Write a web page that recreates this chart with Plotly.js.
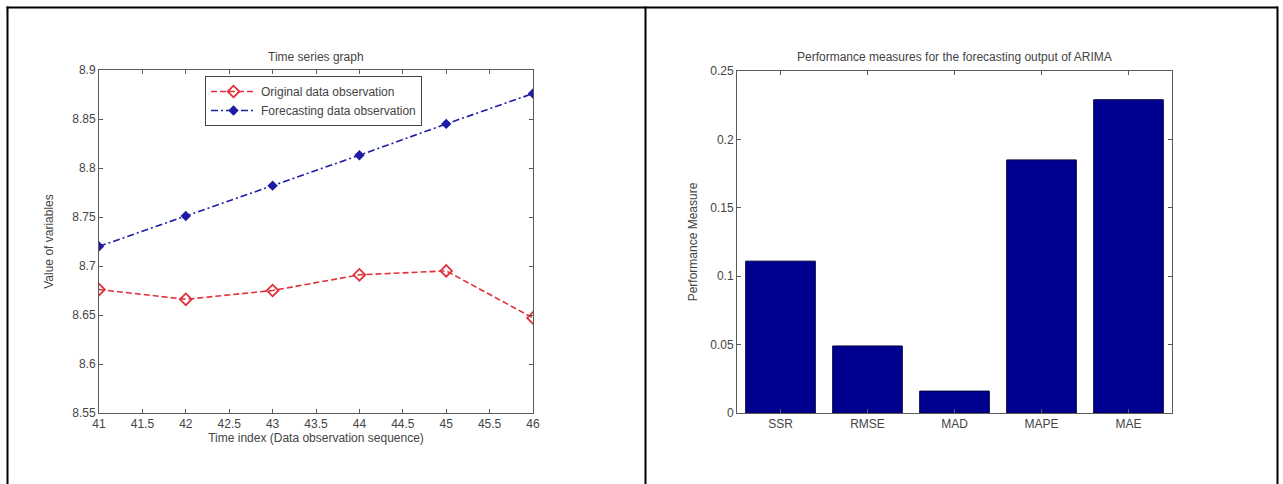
<!DOCTYPE html>
<html>
<head>
<meta charset="utf-8">
<script src="https://cdn.plot.ly/plotly-3.0.1.min.js"></script>
<style>html,body{margin:0;padding:0;background:#fff;}#chart{width:1283px;height:484px;}</style>
</head>
<body>
<div id="chart"></div>
<script>
// ---- data ----
var timeIndex = [41, 42, 43, 44, 45, 46];
var originalObs = [8.676, 8.666, 8.675, 8.691, 8.695, 8.647];
var forecastObs = [8.720, 8.751, 8.782, 8.813, 8.845, 8.876];
var leftYTicks = [8.55, 8.6, 8.65, 8.7, 8.75, 8.8, 8.85, 8.9];
var leftYTickText = ["8.55", "8.6", "8.65", "8.7", "8.75", "8.8", "8.85", "8.9"];
var leftXTicks = [41, 41.5, 42, 42.5, 43, 43.5, 44, 44.5, 45, 45.5, 46];
var leftXTickText = ["41", "41.5", "42", "42.5", "43", "43.5", "44", "44.5", "45", "45.5", "46"];
var measureNames = ["SSR", "RMSE", "MAD", "MAPE", "MAE"];
var measureValues = [0.111, 0.049, 0.016, 0.185, 0.229];
var rightYTicks = [0, 0.05, 0.1, 0.15, 0.2, 0.25];
var rightYTickText = ["0", "0.05", "0.1", "0.15", "0.2", "0.25"];

var W = 1283, H = 484;
function px(x) { return x / W; }
function py(y) { return 1 - y / H; }

var FONT = "Liberation Sans, Arial, sans-serif";
var TXT = "#444444";
var AX = "#5a5a5a";

var traces = [
  {
    x: timeIndex, y: originalObs, type: "scatter", mode: "lines+markers",
    name: "Original data observation",
    line: {color: "#e0303a", width: 1.6, dash: "6px,3px"},
    marker: {symbol: "diamond-open", size: 9, color: "#e0303a", line: {width: 1.8, color: "#e0303a"}},
    xaxis: "x", yaxis: "y"
  },
  {
    x: timeIndex, y: forecastObs, type: "scatter", mode: "lines+markers",
    name: "Forecasting data observation",
    line: {color: "#1c1ca6", width: 1.6, dash: "7px,3px,2px,3px"},
    marker: {symbol: "diamond", size: 8, color: "#1c1ca6"},
    xaxis: "x", yaxis: "y"
  },
  {
    x: measureNames, y: measureValues, type: "bar",
    marker: {color: "#000090", line: {color: "#000040", width: 1}},
    showlegend: false, xaxis: "x2", yaxis: "y2"
  }
];

var axisCommon = {
  showline: true, linecolor: AX, linewidth: 1, mirror: "ticks",
  ticks: "inside", ticklen: 4, tickcolor: AX, tickwidth: 1,
  showgrid: false, zeroline: false,
  tickfont: {family: FONT, size: 12, color: TXT}
};

function merge(a, b) { var o = {}; for (var k in a) o[k] = a[k]; for (var k2 in b) o[k2] = b[k2]; return o; }

var shapes = [];
function vline(x, y0, y1) { shapes.push({type: "line", xref: "paper", yref: "paper", x0: px(x), x1: px(x), y0: py(y0), y1: py(y1), line: {color: "#000", width: 2}}); }
function hline(y, x0, x1) { shapes.push({type: "line", xref: "paper", yref: "paper", x0: px(x0), x1: px(x1), y0: py(y), y1: py(y), line: {color: "#000", width: 2}}); }
hline(7.5, 6.5, 1278);
vline(7.5, 6.5, 484);
vline(645.5, 6.5, 484);
vline(1277.5, 6.5, 484);

var layout = {
  width: W, height: H,
  margin: {l: 0, r: 0, t: 0, b: 0},
  paper_bgcolor: "#ffffff", plot_bgcolor: "#ffffff",
  font: {family: FONT, size: 12, color: TXT},
  bargap: 0.2,
  xaxis: merge(axisCommon, {
    domain: [px(99), px(533)], range: [41, 46], anchor: "y",
    tickvals: leftXTicks, ticktext: leftXTickText,
    title: {text: "Time index (Data observation sequence)", font: {family: FONT, size: 12, color: TXT}, standoff: 2}
  }),
  yaxis: merge(axisCommon, {
    domain: [py(413), py(70)], range: [8.55, 8.9], anchor: "x",
    tickvals: leftYTicks, ticktext: leftYTickText,
    title: {text: "Value of variables", font: {family: FONT, size: 12, color: TXT}, standoff: 16}
  }),
  xaxis2: merge(axisCommon, {
    domain: [px(737), px(1172)], anchor: "y2", type: "category",
    range: [-0.5, 4.5],
    tickvals: measureNames, ticktext: measureNames,
    title: {text: ""}
  }),
  yaxis2: merge(axisCommon, {
    domain: [py(413), py(71)], range: [0, 0.25], anchor: "x2",
    tickvals: rightYTicks, ticktext: rightYTickText,
    title: {text: "Performance Measure", font: {family: FONT, size: 12, color: TXT}, standoff: 10}
  }),
  legend: {
    x: px(205), y: py(76), xanchor: "left", yanchor: "top",
    bgcolor: "#ffffff", bordercolor: "#444", borderwidth: 1,
    itemwidth: 45,
    font: {family: FONT, size: 12, color: TXT}, tracegroupgap: 0
  },
  annotations: [
    {text: "Time series graph", xref: "paper", yref: "paper", x: px(316), y: py(57), xanchor: "center", yanchor: "middle", showarrow: false, font: {family: FONT, size: 12, color: TXT}},
    {text: "Performance measures for the forecasting output of ARIMA", xref: "paper", yref: "paper", x: px(954), y: py(57), xanchor: "center", yanchor: "middle", showarrow: false, font: {family: FONT, size: 12, color: TXT}}
  ],
  shapes: shapes
};

Plotly.newPlot("chart", traces, layout, {staticPlot: true, displayModeBar: false});
</script>
</body>
</html>
